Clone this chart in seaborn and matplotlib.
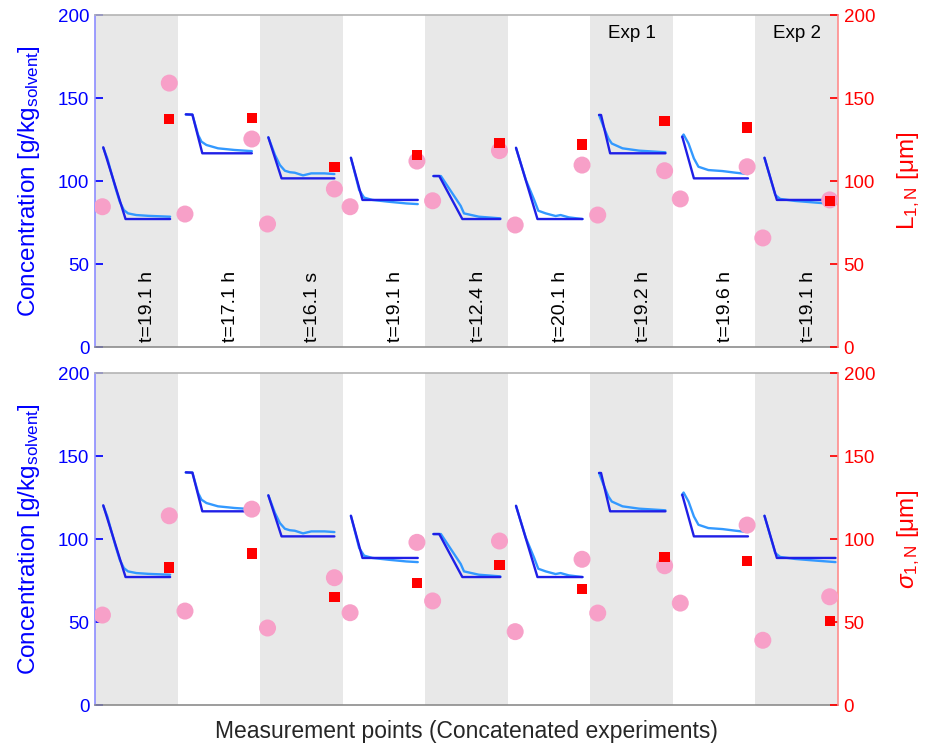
import numpy as np
import pandas as pd
import matplotlib
matplotlib.use("Agg")
import matplotlib.pyplot as plt
import seaborn as sns

# ---------------------------------------------------------------- data
run_labels = ["t=19.1 h", "t=17.1 h", "t=16.1 s", "t=19.1 h", "t=12.4 h",
              "t=20.1 h", "t=19.2 h", "t=19.6 h", "t=19.1 h"]
exp_labels = {6: "Exp 1", 8: "Exp 2"}

# concentration set-point profile (local time fraction, g/kg solvent)
setpoint_t = [
    [0.10, 0.37, 0.91],
    [0.10, 0.18, 0.30, 0.90],
    [0.10, 0.26, 0.90],
    [0.10, 0.24, 0.91],
    [0.10, 0.17, 0.45, 0.91],
    [0.10, 0.36, 0.905],
    [0.106, 0.13, 0.24, 0.91],
    [0.114, 0.255, 0.91],
    [0.11, 0.26, 0.97],
]
setpoint_c = [
    [120.3, 77.1, 77.1],
    [140.2, 140.0, 116.7, 116.7],
    [126.3, 101.6, 101.6],
    [114.0, 88.6, 88.6],
    [103.0, 103.0, 77.1, 77.1],
    [120.0, 77.1, 77.1],
    [139.8, 139.8, 116.7, 116.7],
    [126.7, 101.6, 101.6],
    [114.0, 88.6, 88.6],
]

# measured concentration (local time fraction, g/kg solvent)
measured_t = [
    [0.10, 0.15, 0.20, 0.25, 0.30, 0.35, 0.40, 0.50, 0.65, 0.91],
    [0.10, 0.18, 0.21, 0.25, 0.29, 0.35, 0.49, 0.69, 0.90],
    [0.10, 0.18, 0.24, 0.30, 0.36, 0.42, 0.52, 0.62, 0.78, 0.90],
    [0.10, 0.20, 0.26, 0.36, 0.56, 0.77, 0.91],
    [0.10, 0.19, 0.43, 0.47, 0.65, 0.91],
    [0.10, 0.22, 0.32, 0.37, 0.46, 0.58, 0.64, 0.74, 0.905],
    [0.106, 0.16, 0.22, 0.26, 0.39, 0.59, 0.91],
    [0.11, 0.13, 0.19, 0.255, 0.31, 0.43, 0.60, 0.76, 0.91],
    [0.11, 0.24, 0.30, 0.48, 0.73, 0.97],
]
measured_c = [
    [120.0, 113.5, 104.5, 95.5, 87.5, 82.5, 80.5, 79.5, 79.0, 78.5],
    [140.0, 140.0, 134.7, 127.7, 123.7, 121.7, 119.7, 118.7, 118.0],
    [126.3, 115.7, 109.6, 106.2, 105.3, 105.0, 103.4, 104.6, 104.6, 104.2],
    [114.0, 94.6, 90.0, 88.6, 87.5, 86.5, 86.1],
    [103.0, 103.0, 85.0, 80.5, 78.5, 77.5],
    [120.0, 100.6, 88.6, 82.1, 80.5, 78.9, 79.5, 78.1, 77.1],
    [139.8, 132.7, 125.6, 122.6, 119.7, 118.3, 117.3],
    [126.5, 128.0, 122.6, 113.6, 108.6, 106.6, 106.0, 105.0, 104.2],
    [114.0, 91.6, 89.2, 88.0, 87.0, 86.1],
]

# mean crystal size L_1,N [um]
L_start = [84.5, 80.1, 74.1, 84.5, 88.1, 73.5, 79.5, 89.2, 65.7]
L_end = [159.0, 125.3, 95.2, 112.0, 118.3, 109.6, 106.2, 108.6, 88.6]
L_model = [137.3, 137.8, 108.6, 115.7, 123.1, 122.0, 136.1, 132.3, 88.1]

# width of the distribution sigma_1,N [um]
S_start = [54.2, 56.6, 46.4, 55.6, 62.7, 44.2, 55.4, 61.4, 39.0]
S_end = [114.0, 118.0, 76.7, 98.0, 98.8, 87.8, 83.9, 108.4, 65.2]
S_model = [82.9, 91.2, 64.9, 73.5, 84.3, 69.7, 89.0, 86.9, 50.8]

T_START, T_END = 0.09, 0.90   # local positions of the size samples

# ---------------------------------------------------------------- style
sns.set_theme(style="white")
plt.rcParams["font.family"] = ["Liberation Sans", "DejaVu Sans"]
plt.rcParams["mathtext.fontset"] = "custom"
plt.rcParams["mathtext.rm"] = "Liberation Sans"
plt.rcParams["mathtext.it"] = "Liberation Sans:italic"
plt.rcParams["mathtext.bf"] = "Liberation Sans:bold"

BLUE = "#0000ff"
RED = "#ff0000"
C_SET = "#1f1fe6"
C_MEAS = "#3399ff"
C_PINK = "#f7a0c8"
C_BAND = "#e8e8e8"
N = len(run_labels)

lines = pd.DataFrame(
    [(i, i + t, c, "setpoint") for i in range(N) for t, c in zip(setpoint_t[i], setpoint_c[i])]
    + [(i, i + t, c, "measured") for i in range(N) for t, c in zip(measured_t[i], measured_c[i])],
    columns=["run", "x", "conc", "kind"],
)


def draw_panel(ax, start, end, model, right_label, show_text):
    ax.set_xlim(0, N)
    ax.set_ylim(0, 200)
    for i in range(0, N, 2):
        ax.axvspan(i, i + 1, color=C_BAND, lw=0, zorder=0)

    for i in range(N):
        for kind, col in (("measured", C_MEAS), ("setpoint", C_SET)):
            sub = lines[(lines.run == i) & (lines.kind == kind)]
            sns.lineplot(data=sub, x="x", y="conc", ax=ax, color=col, lw=1.7,
                         sort=False, estimator=None, legend=False, zorder=3)
        if show_text:
            ax.text(i + 0.64, 3, run_labels[i], rotation=90, ha="center",
                    va="bottom", fontsize=14, color="black", zorder=4)
        if show_text and i in exp_labels:
            ax.text(i + 0.5, 189, exp_labels[i], ha="center", va="center",
                    fontsize=13.5, color="black")

    ax.set_xticks([])
    ax.set_yticks(np.arange(0, 201, 50))
    ax.tick_params(axis="y", direction="in", length=6, colors=BLUE,
                   labelsize=13.5, pad=4, left=True)
    for lab in ax.get_yticklabels():
        lab.set_color(BLUE)
    ax.set_xlabel("")
    ax.set_ylabel("Concentration [g/kg$_\\mathrm{solvent}$]", color=BLUE, fontsize=17.5)
    ax.yaxis.set_label_coords(-0.071, 0.5)

    ax2 = ax.twinx()
    ax2.set_ylim(0, 200)
    xs = np.arange(N)
    sns.scatterplot(x=xs + T_START, y=start, ax=ax2, color=C_PINK, s=150,
                    edgecolor="none", marker="o", legend=False, zorder=5)
    sns.scatterplot(x=xs + T_END, y=end, ax=ax2, color=C_PINK, s=150,
                    edgecolor="none", marker="o", legend=False, zorder=5)
    sns.scatterplot(x=xs + T_END, y=model, ax=ax2, color=RED, s=55,
                    edgecolor="none", marker="s", legend=False, zorder=6)
    ax2.set_xlim(0, N)
    ax2.set_yticks(np.arange(0, 201, 50))
    ax2.tick_params(axis="y", direction="in", length=6, colors=RED,
                    labelsize=13.5, pad=4, right=True)
    for lab in ax2.get_yticklabels():
        lab.set_color(RED)
    ax2.set_ylabel(right_label, color=RED, fontsize=17.5, rotation=90)
    ax2.yaxis.set_label_coords(1.077, 0.5)

    for a in (ax, ax2):
        for s in ("left", "right", "top", "bottom"):
            a.spines[s].set_visible(False)
    ax.spines["left"].set_visible(True)
    ax.spines["left"].set_color("#8c8cff")
    ax.spines["top"].set_visible(True)
    ax.spines["top"].set_color("#b4b4b4")
    ax.spines["bottom"].set_visible(True)
    ax.spines["bottom"].set_color("#8c8c8c")
    ax2.spines["right"].set_visible(True)
    ax2.spines["right"].set_color("#ff8c8c")
    for s in ("left", "top", "bottom"):
        ax.spines[s].set_linewidth(1.2)
    ax2.spines["right"].set_linewidth(1.2)
    return ax2


fig = plt.figure(figsize=(9.25, 7.44), dpi=100)
ax_top = fig.add_axes([0.1027, 0.5336, 0.8032, 0.4462])
ax_bot = fig.add_axes([0.1027, 0.0524, 0.8032, 0.4462])

draw_panel(ax_top, L_start, L_end, L_model, "L$_\\mathrm{1,N}$ [μm]", True)
draw_panel(ax_bot, S_start, S_end, S_model, "$\\sigma_\\mathrm{1,N}$ [μm]", False)

ax_bot.set_xlabel("Measurement points (Concatenated experiments)",
                  fontsize=16.5, color="#262626")
ax_bot.xaxis.set_label_coords(0.5, -0.045)

fig.savefig("out.png", dpi=100)
